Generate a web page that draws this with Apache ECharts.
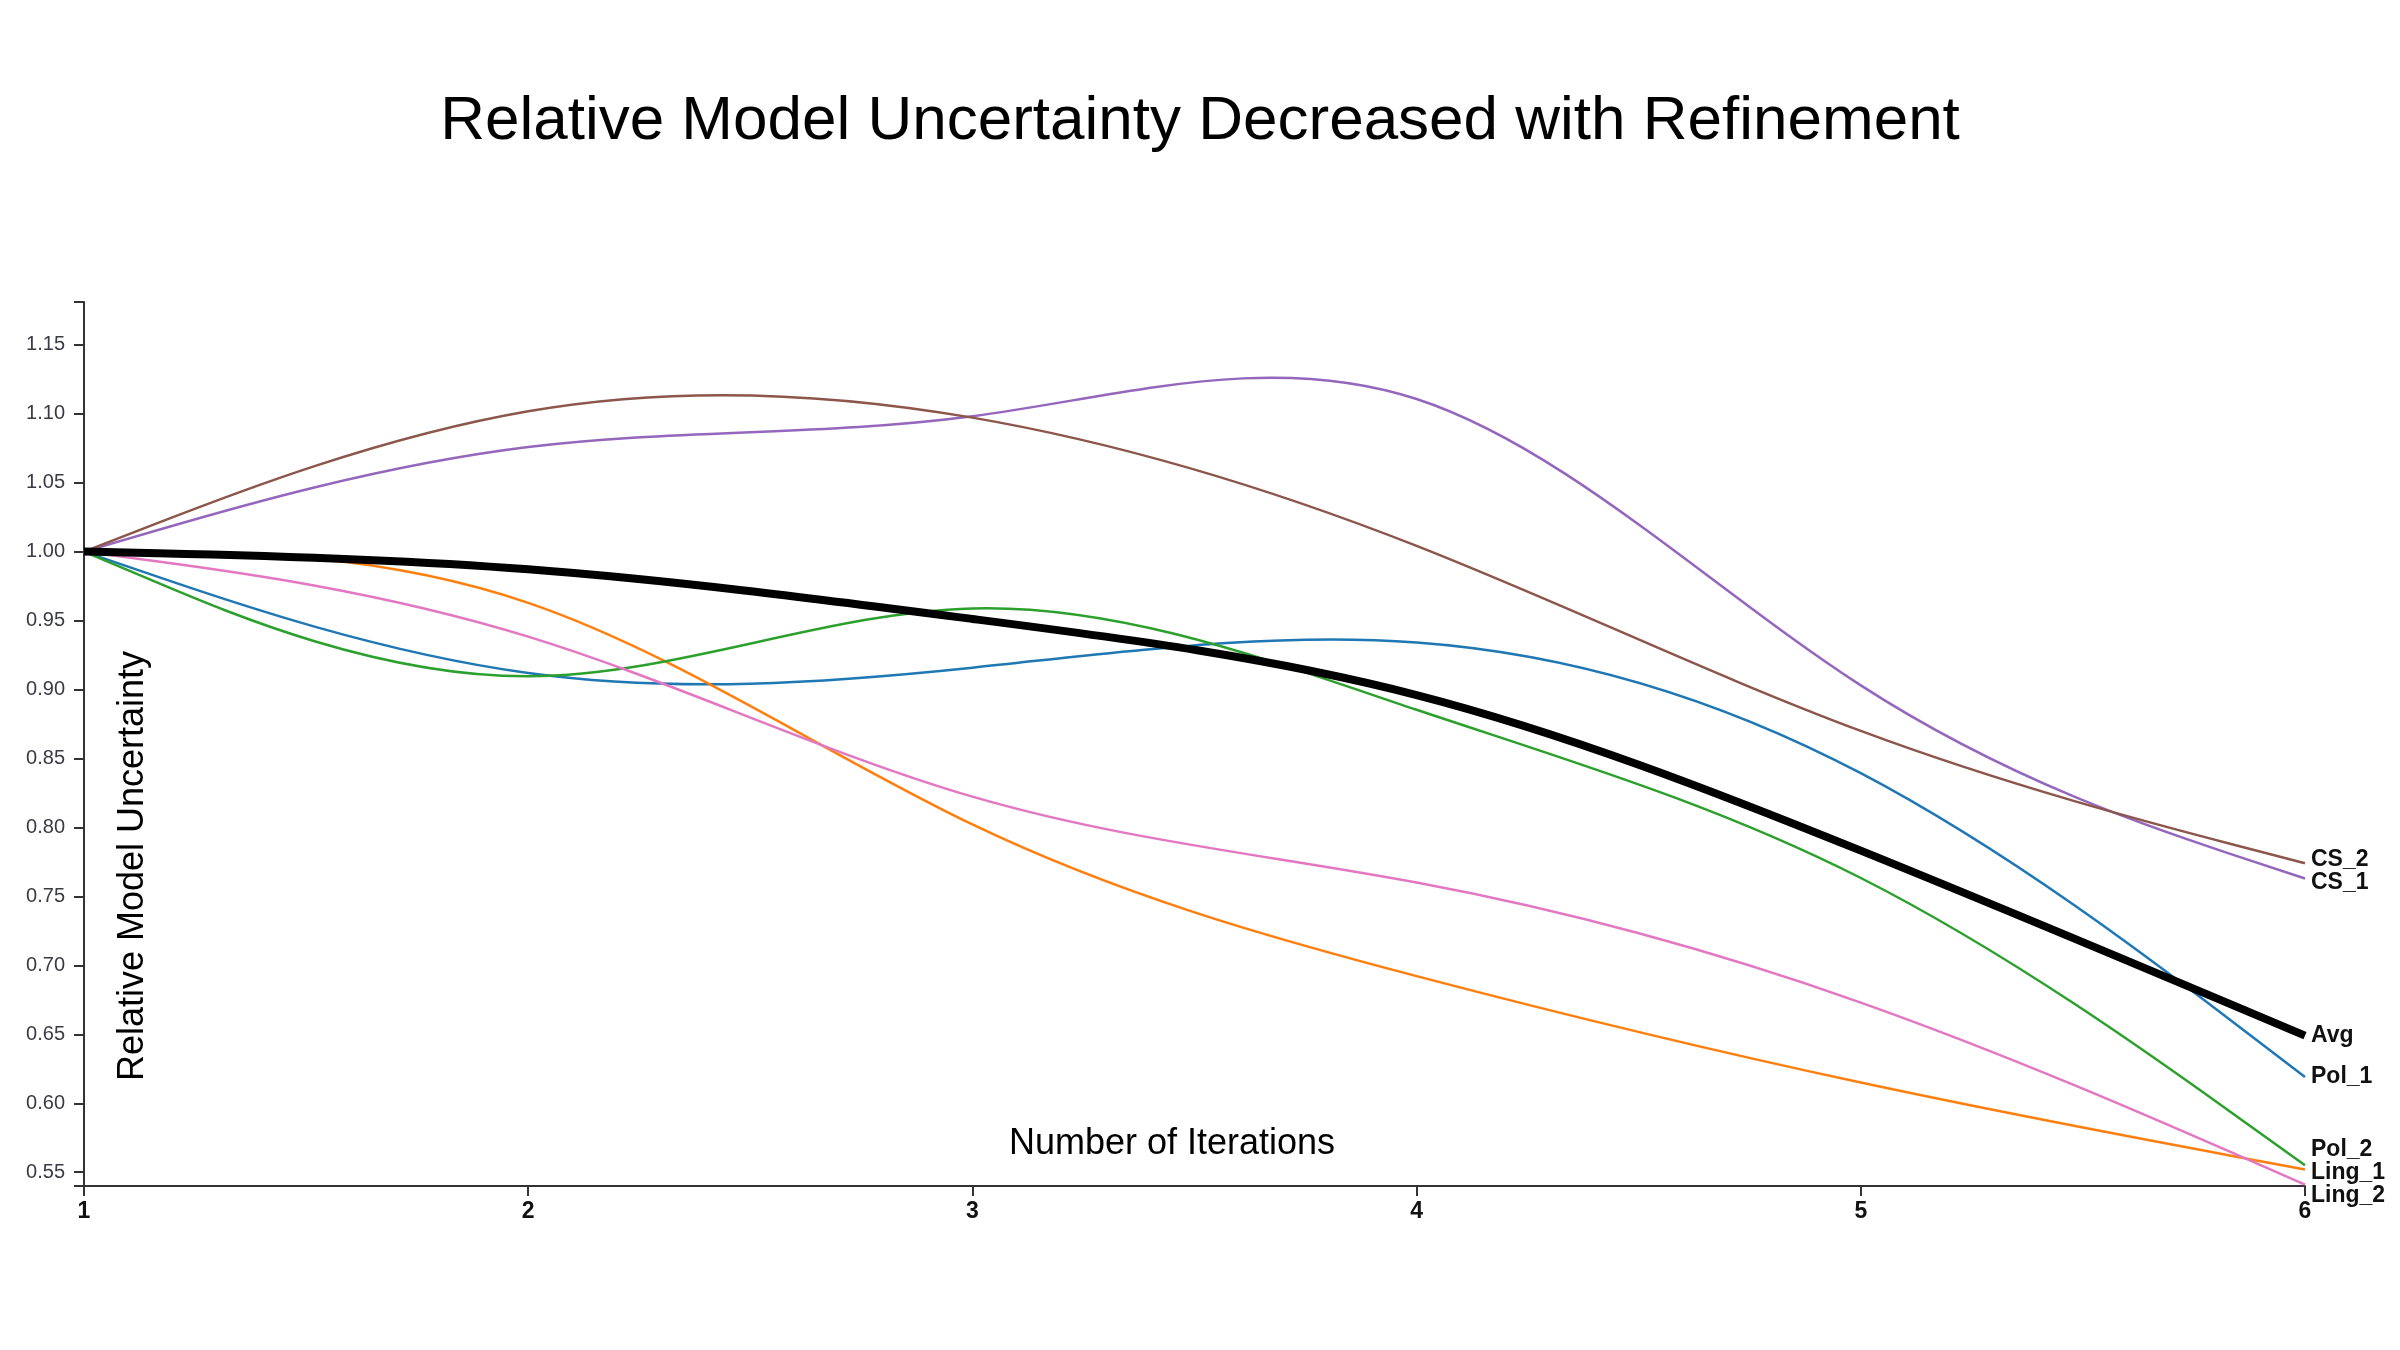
<!DOCTYPE html>
<html>
<head>
<meta charset="utf-8">
<script src="https://cdn.jsdelivr.net/npm/echarts@6/dist/echarts.min.js"></script>
<style>
html,body{margin:0;padding:0;background:#fff;}
#chart{width:2400px;height:1350px;}
</style>
</head>
<body>
<div id="chart"></div>
<script>
// ---- data ----
const iterations = [1, 2, 3, 4, 5, 6];
const seriesNames = ['Pol_1', 'Ling_1', 'Pol_2', 'CS_1', 'CS_2', 'Ling_2', 'Avg'];
const pol1  = [1.00, 0.890, 0.912, 0.957, 0.865, 0.619];
const ling1 = [1.00, 0.999, 0.781, 0.690, 0.612, 0.552];
const pol2  = [1.00, 0.864, 1.002, 0.881, 0.786, 0.555];
const cs1   = [1.00, 1.094, 1.079, 1.179, 0.869, 0.763];
const cs2   = [1.00, 1.125, 1.111, 1.014, 0.858, 0.774];
const ling2 = [1.00, 0.957, 0.802, 0.769, 0.682, 0.541];
const avg   = [1.00, 0.993, 0.951, 0.910, 0.785, 0.649];
const yTickLabels = [0.55, 0.60, 0.65, 0.70, 0.75, 0.80, 0.85, 0.90, 0.95, 1.00, 1.05, 1.10, 1.15];
const yMin = 0.54, yMax = 1.181;

const seriesValues = [pol1, ling1, pol2, cs1, cs2, ling2, avg];
const seriesColors = ['#1f77b4', '#ff7f0e', '#2ca02c', '#9467bd', '#8c564b', '#e377c2', '#000000'];
const seriesWidths = [2.5, 2.5, 2.5, 2.5, 2.5, 2.5, 8];

const FONT = 'Liberation Sans, Arial, sans-serif';

// basis (B-spline) path through pixel points
function basisPath(pts) {
  let d = '', s = 0, x0, y0, x1, y1;
  const bez = (x, y) => {
    d += ' C' + ((2 * x0 + x1) / 3) + ',' + ((2 * y0 + y1) / 3) + ' ' +
      ((x0 + 2 * x1) / 3) + ',' + ((y0 + 2 * y1) / 3) + ' ' +
      ((x0 + 4 * x1 + x) / 6) + ',' + ((y0 + 4 * y1 + y) / 6);
  };
  pts.forEach(([x, y]) => {
    if (s === 0) { s = 1; d = 'M' + x + ',' + y; }
    else if (s === 1) { s = 2; }
    else {
      if (s === 2) { s = 3; d += ' L' + ((5 * x0 + x1) / 6) + ',' + ((5 * y0 + y1) / 6); }
      bez(x, y);
    }
    x0 = x1; x1 = x; y0 = y1; y1 = y;
  });
  if (s === 3) { bez(x1, y1); d += ' L' + x1 + ',' + y1; }
  else if (s === 2) { d += ' L' + x1 + ',' + y1; }
  return d;
}

// end-label y positions with simple collision relaxation
function labelPositions(api) {
  const last = iterations.length - 1;
  const items = seriesValues.map((vals, k) => ({ k, y: api.coord([iterations[last], vals[last]])[1] }));
  items.sort((a, b) => a.y - b.y);
  const gap = 23;
  for (let it = 0; it < 100; it++) {
    for (let i = 1; i < items.length; i++) {
      const dd = items[i].y - items[i - 1].y;
      if (dd < gap) {
        const push = (gap - dd) / 2;
        items[i].y += push; items[i - 1].y -= push;
      }
    }
  }
  const out = {};
  items.forEach(o => { out[o.k] = o.y; });
  return out;
}

const series = seriesValues.map((vals, k) => ({
  type: 'custom',
  name: seriesNames[k],
  coordinateSystem: 'cartesian2d',
  data: iterations.map((x, i) => [x, vals[i]]),
  encode: { x: 0, y: 1 },
  z: k === 6 ? 10 : 2,
  silent: true,
  clip: false,
  renderItem: function (params, api) {
    if (params.dataIndex !== 0) return null;
    const pts = iterations.map((x, i) => api.coord([x, vals[i]]));
    const end = pts[pts.length - 1];
    const ly = labelPositions(api)[k];
    return {
      type: 'group',
      children: [
        {
          type: 'path',
          shape: { pathData: basisPath(pts) },
          style: { stroke: seriesColors[k], lineWidth: seriesWidths[k], fill: null, lineJoin: 'round' }
        },
        {
          type: 'text',
          x: end[0] + 6,
          y: ly,
          style: {
            text: seriesNames[k],
            fill: '#111',
            fontSize: 23,
            fontWeight: 'bold',
            fontFamily: FONT,
            align: 'left',
            verticalAlign: 'middle'
          }
        }
      ]
    };
  }
}));

const chart = echarts.init(document.getElementById('chart'), null, { renderer: 'canvas', width: 2400, height: 1350 });
chart.setOption({
  animation: false,
  backgroundColor: '#ffffff',
  title: {
    text: 'Relative Model Uncertainty Decreased with Refinement',
    left: 'center',
    top: 86,
    textStyle: { fontSize: 62, fontWeight: 'normal', fontFamily: FONT, color: '#000', lineHeight: 62 }
  },
  grid: { left: 84, right: 95, top: 302, bottom: 164, containLabel: false, outerBoundsMode: 'none' },
  xAxis: {
    type: 'value',
    min: 1, max: 6, interval: 1,
    axisLine: { show: true, onZero: false, lineStyle: { color: '#333', width: 2 } },
    axisTick: { show: true, length: 10, lineStyle: { color: '#333', width: 2 } },
    axisLabel: { show: true, margin: 14, fontSize: 23, fontWeight: 'bold', fontFamily: FONT, color: '#111' },
    splitLine: { show: false }
  },
  yAxis: {
    type: 'value',
    min: yMin, max: yMax,
    axisLine: { show: true, onZero: false, lineStyle: { color: '#333', width: 2 } },
    axisTick: { show: true, length: 10, lineStyle: { color: '#333', width: 2 }, customValues: [yMin].concat(yTickLabels, [yMax]) },
    axisLabel: {
      show: true, margin: 19, fontSize: 20, fontFamily: FONT, color: '#3a3a44',
      customValues: yTickLabels,
      formatter: v => Number(v).toFixed(2)
    },
    splitLine: { show: false }
  },
  graphic: [
    {
      type: 'text', x: 133, y: 866, rotation: Math.PI / 2,
      style: { text: 'Relative Model Uncertainty', fontSize: 36, fontFamily: FONT, fill: '#000', align: 'center', verticalAlign: 'middle' }
    },
    {
      type: 'text', x: 1172, y: 1144,
      style: { text: 'Number of Iterations', fontSize: 36, fontFamily: FONT, fill: '#000', align: 'center', verticalAlign: 'middle' }
    }
  ],
  series: series
});
</script>
</body>
</html>
